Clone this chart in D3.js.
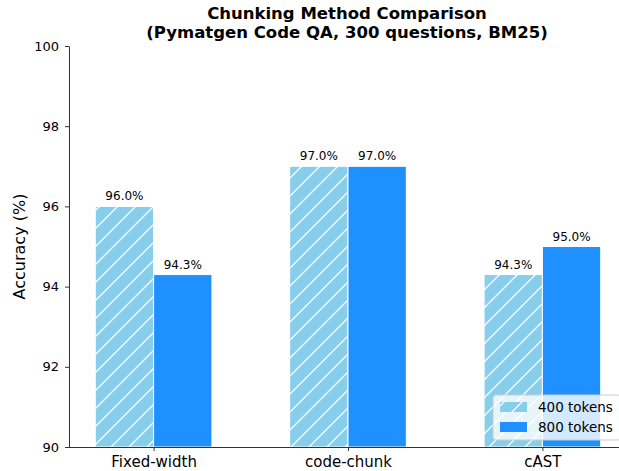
<!DOCTYPE html>
<html>
<head>
<meta charset="UTF-8">
<title>Chunking Method Comparison</title>
<script src="https://d3js.org/d3.v7.min.js"></script>
<style>
body { margin: 0; background: #fff; }
text { font-family: "DejaVu Sans", sans-serif; fill: #000; }
</style>
</head>
<body>
<svg id="chart" width="619" height="471"></svg>
<script>

/* Data */
var methods = ['Fixed-width', 'code-chunk', 'cAST'];
var series = ['400 tokens', '800 tokens'];
var acc400 = [96.0, 97.0, 94.3];
var acc800 = [94.3, 97.0, 95.0];
var yTicks = [90, 92, 94, 96, 98, 100];

/* Layout (window.top is reserved, so plot* names) */
var plotL = 69, plotR = 625, plotT = 46, plotB = 447;
var barW = 0.3;
var colors = ['#87ceeb', '#1e90ff'];

var svg = d3.select('#chart');

var x = d3.scaleLinear().domain([-0.43, 2.43]).range([plotL + 1, plotR + 1]);
var y = d3.scaleLinear().domain([90, 100]).range([plotB, plotT]);

// hatch for the 400 token bars
var defs = svg.append('defs');
var pat = defs.append('pattern')
	.attr('id', 'hatch')
	.attr('patternUnits', 'userSpaceOnUse')
	.attr('width', 18)
	.attr('height', 18);
pat.append('rect').attr('width', 18).attr('height', 18).attr('fill', colors[0]);
pat.append('path')
	.attr('d', 'M-4.5,4.5 L4.5,-4.5 M0,18 L18,0 M13.5,22.5 L22.5,13.5')
	.attr('stroke', '#fff').attr('stroke-width', 1.3);

var data = [acc400, acc800];

data.forEach(function(vals, s) {
	var off = s == 0 ? -barW / 2 : barW / 2;
	var g = svg.append('g');
	g.selectAll('rect')
		.data(vals)
		.enter()
		.append('rect')
		.attr('x', function(d, i) { return x(i + off - barW / 2); })
		.attr('width', x(barW) - x(0))
		.attr('y', function(d) { return y(d); })
		.attr('height', function(d) { return plotB - y(d); })
		.attr('fill', s == 0 ? 'url(#hatch)' : colors[1])
		.attr('stroke', '#fff')
		.attr('stroke-width', 1);
	g.selectAll('text')
		.data(vals)
		.enter()
		.append('text')
		.attr('x', function(d, i) { return x(i + off); })
		.attr('y', function(d) { return y(d) - 6; })
		.attr('text-anchor', 'middle')
		.style('font-size', '12px')
		.text(function(d) { return d.toFixed(1) + '%'; });
});

// axes
var yAxis = svg.append('g')
	.attr('transform', 'translate(' + plotL + ',0)')
	.call(d3.axisLeft(y).tickValues(yTicks).tickSize(4).tickSizeOuter(0).tickPadding(6));
yAxis.select('.domain').attr('stroke', '#333');
yAxis.selectAll('.tick line').attr('stroke', '#333');
yAxis.selectAll('.tick text').style('font-size', '13px').style('font-family', 'DejaVu Sans');

var xAxis = svg.append('g')
	.attr('transform', 'translate(0,' + plotB + ')')
	.call(d3.axisBottom(x).tickValues([0, 1, 2]).tickFormat(function(d) { return methods[d]; }).tickSize(4).tickSizeOuter(0).tickPadding(5));
xAxis.select('.domain').attr('stroke', '#333').attr('d', 'M' + plotL + ',0.5H' + (plotR + 1));
xAxis.selectAll('.tick line').attr('stroke', '#333');
xAxis.selectAll('.tick text').style('font-size', '15px').style('font-family', 'DejaVu Sans');

// labels
svg.append('text')
	.attr('transform', 'translate(25,' + (plotT + plotB) / 2 + ') rotate(-90)')
	.attr('text-anchor', 'middle')
	.style('font-size', '16px')
	.text('Accuracy (%)');

var title = svg.append('text')
	.attr('text-anchor', 'middle')
	.style('font-size', '16.5px')
	.style('font-weight', 'bold');
title.append('tspan').attr('x', (plotL + plotR) / 2).attr('y', 19).text('Chunking Method Comparison');
title.append('tspan').attr('x', (plotL + plotR) / 2).attr('y', 38).text('(Pymatgen Code QA, 300 questions, BM25)');

// legend
var lg = svg.append('g').attr('transform', 'translate(493,395)');
lg.append('rect')
	.attr('width', 128).attr('height', 45).attr('rx', 3)
	.attr('fill', '#fff').attr('fill-opacity', 0.8)
	.attr('stroke', '#ccc');
series.forEach(function(name, i) {
	lg.append('rect')
		.attr('x', 7).attr('y', 7 + i * 20)
		.attr('width', 27).attr('height', 10)
		.attr('fill', i == 0 ? 'url(#hatch)' : colors[1]);
	lg.append('text')
		.attr('x', 45).attr('y', 17 + i * 20)
		.style('font-size', '13.5px')
		.text(name);
});

</script>
</body>
</html>
